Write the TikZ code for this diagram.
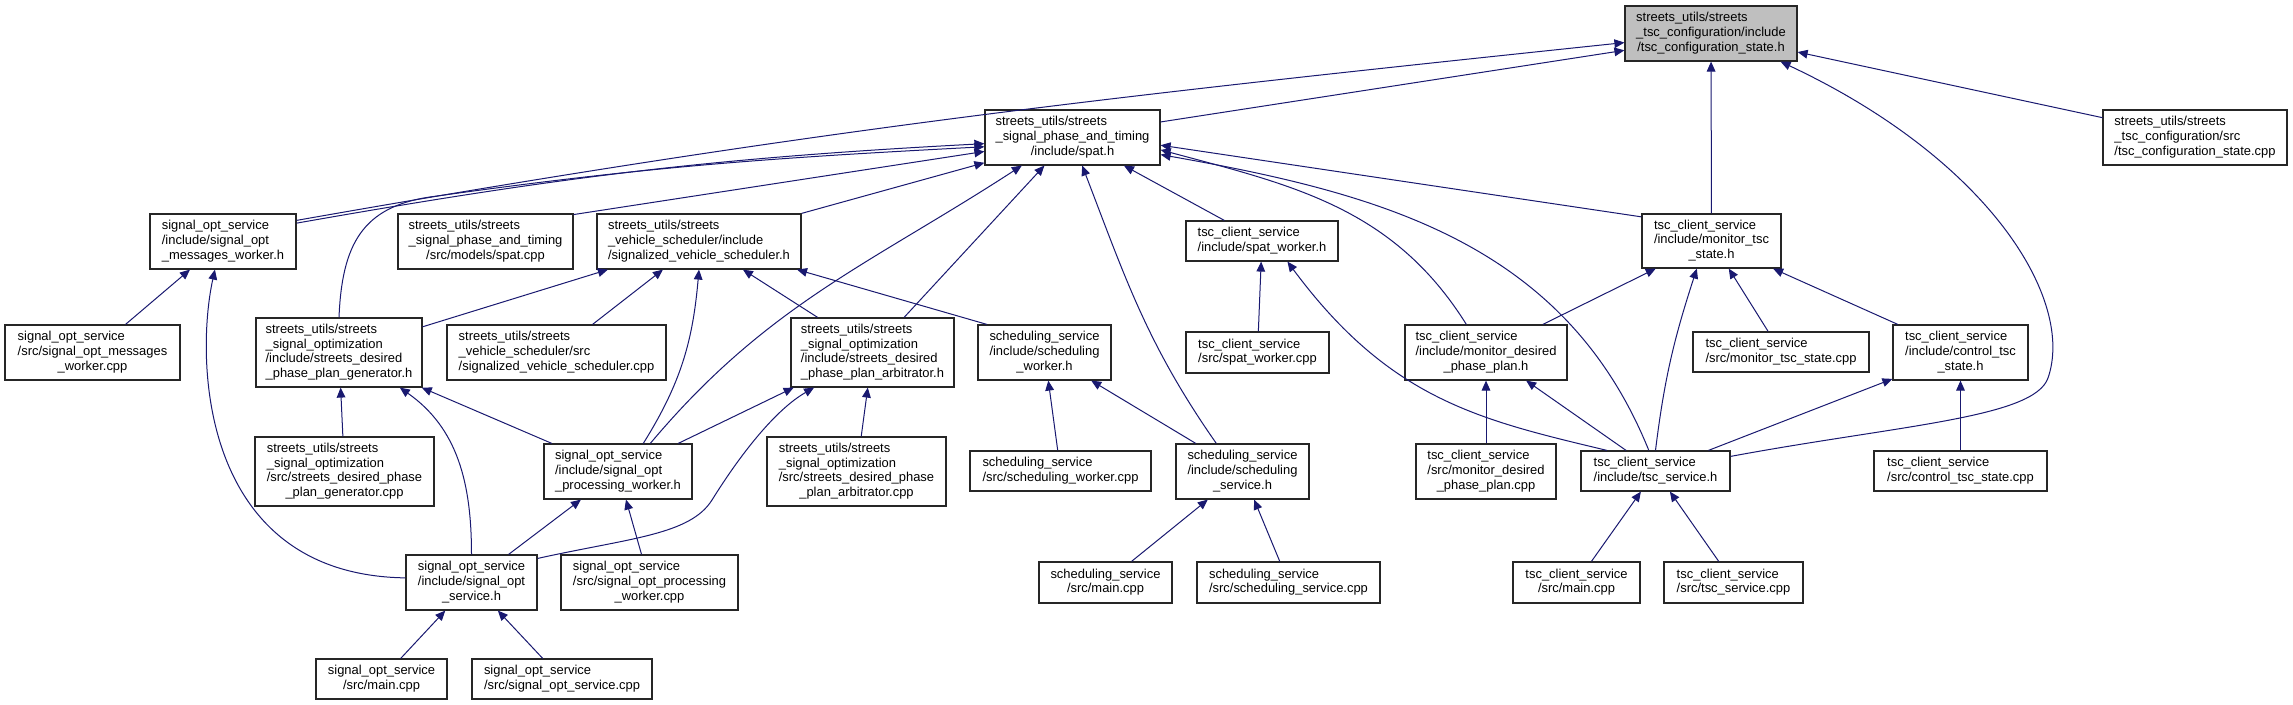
\documentclass[tikz,border=0pt]{standalone}
\usepackage{fontspec}
\setmainfont{Liberation Sans}
\usetikzlibrary{arrows.meta}
\definecolor{edgeblue}{HTML}{191970}
\newcommand{\fsz}{\fontsize{9.7}{11}\selectfont}
\newcommand{\flines}[2]{\begin{tabular}{@{}l@{}}#1\\\multicolumn{1}{@{}c@{}}{#2}\end{tabular}}
\tikzset{
  file/.style={
    draw=black!85,
    line width=0.9pt,
    fill=white,
    inner sep=0pt,
    font=\fsz
  },
  focus/.style={
    file,
    fill=gray!50
  },
  sz/.style 2 args={minimum width=#1*0.75pt, minimum height=#2*0.75pt},
  incl/.style={-{Triangle[length=7.5pt,width=6.5pt]}, draw=edgeblue, line width=0.75pt}
}

\begin{document}
\begin{tikzpicture}[x=0.75pt, y=-0.75pt]
  \path[use as bounding box, fill=white] (0,0) rectangle (2293,705);

  \node[focus, sz={172}{55}] (tscstate) at (1711,33.5) {\flines{streets\_utils/streets\\\_tsc\_configuration/include}{/tsc\_configuration\_state.h}};

  \node[file, sz={184}{55}] (tsccfgcpp) at (2195,137.5) {\flines{streets\_utils/streets\\\_tsc\_configuration/src}{/tsc\_configuration\_state.cpp}};
  \node[file, sz={175}{55}] (spath) at (1072.5,137.5) {\flines{streets\_utils/streets\\\_signal\_phase\_and\_timing}{/include/spat.h}};

  \node[file, sz={146}{55}] (msgworkerh) at (223,241.5) {\flines{signal\_opt\_service\\/include/signal\_opt}{\_messages\_worker.h}};
  \node[file, sz={175}{55}] (spatcpp) at (485.5,241.5) {\flines{streets\_utils/streets\\\_signal\_phase\_and\_timing}{/src/models/spat.cpp}};
  \node[file, sz={204}{55}] (svsh) at (699,241.5) {\flines{streets\_utils/streets\\\_vehicle\_scheduler/include}{/signalized\_vehicle\_scheduler.h}};
  \node[file, sz={152}{40}] (spatworkerh) at (1262,241) {\flines{tsc\_client\_service}{/include/spat\_worker.h}};
  \node[file, sz={139}{54}] (montsch) at (1711.5,241) {\flines{tsc\_client\_service\\/include/monitor\_tsc}{\_state.h}};

  \node[file, sz={175}{55}] (msgworkercpp) at (92.5,352.5) {\flines{signal\_opt\_service\\/src/signal\_opt\_messages}{\_worker.cpp}};
  \node[file, sz={166}{69}] (generatorh) at (339,352.5) {\flines{streets\_utils/streets\\\_signal\_optimization\\/include/streets\_desired}{\_phase\_plan\_generator.h}};
  \node[file, sz={219}{55}] (svscpp) at (556.5,352.5) {\flines{streets\_utils/streets\\\_vehicle\_scheduler/src}{/signalized\_vehicle\_scheduler.cpp}};
  \node[file, sz={163}{69}] (arbitratorh) at (872.5,352.5) {\flines{streets\_utils/streets\\\_signal\_optimization\\/include/streets\_desired}{\_phase\_plan\_arbitrator.h}};
  \node[file, sz={133}{55}] (schedworkerh) at (1044.5,352.5) {\flines{scheduling\_service\\/include/scheduling}{\_worker.h}};
  \node[file, sz={143}{41}] (spatworkercpp) at (1257.5,352.5) {\flines{tsc\_client\_service}{/src/spat\_worker.cpp}};
  \node[file, sz={162}{55}] (mondpph) at (1486,352.5) {\flines{tsc\_client\_service\\/include/monitor\_desired}{\_phase\_plan.h}};
  \node[file, sz={176}{40}] (montsccpp) at (1781,352) {\flines{tsc\_client\_service}{/src/monitor\_tsc\_state.cpp}};
  \node[file, sz={135}{55}] (ctrltsch) at (1960.5,352.5) {\flines{tsc\_client\_service\\/include/control\_tsc}{\_state.h}};

  \node[file, sz={179}{69}] (generatorcpp) at (344.5,471.5) {\flines{streets\_utils/streets\\\_signal\_optimization\\/src/streets\_desired\_phase}{\_plan\_generator.cpp}};
  \node[file, sz={148}{55}] (procworkerh) at (618,471.5) {\flines{signal\_opt\_service\\/include/signal\_opt}{\_processing\_worker.h}};
  \node[file, sz={179}{69}] (arbitratorcpp) at (856.5,471.5) {\flines{streets\_utils/streets\\\_signal\_optimization\\/src/streets\_desired\_phase}{\_plan\_arbitrator.cpp}};
  \node[file, sz={181}{40}] (schedworkercpp) at (1060.5,471) {\flines{scheduling\_service}{/src/scheduling\_worker.cpp}};
  \node[file, sz={133}{55}] (schedserviceh) at (1242.5,471.5) {\flines{scheduling\_service\\/include/scheduling}{\_service.h}};
  \node[file, sz={140}{55}] (mondppcpp) at (1486,471.5) {\flines{tsc\_client\_service\\/src/monitor\_desired}{\_phase\_plan.cpp}};
  \node[file, sz={149}{40}] (tscserviceh) at (1655.5,471) {\flines{tsc\_client\_service}{/include/tsc\_service.h}};
  \node[file, sz={173}{40}] (ctrltsccpp) at (1960.5,471) {\flines{tsc\_client\_service}{/src/control\_tsc\_state.cpp}};

  \node[file, sz={131}{55}] (sosh) at (471.5,582.5) {\flines{signal\_opt\_service\\/include/signal\_opt}{\_service.h}};
  \node[file, sz={177}{55}] (procworkercpp) at (649.5,582.5) {\flines{signal\_opt\_service\\/src/signal\_opt\_processing}{\_worker.cpp}};
  \node[file, sz={133}{41}] (ssmaincpp) at (1105.5,582.5) {\flines{scheduling\_service}{/src/main.cpp}};
  \node[file, sz={183}{41}] (sscpp) at (1288.5,582.5) {\flines{scheduling\_service}{/src/scheduling\_service.cpp}};
  \node[file, sz={127}{41}] (tscmaincpp) at (1576.5,582.5) {\flines{tsc\_client\_service}{/src/main.cpp}};
  \node[file, sz={139}{41}] (tscservicecpp) at (1733.5,582.5) {\flines{tsc\_client\_service}{/src/tsc\_service.cpp}};

  \node[file, sz={131}{40}] (sosmaincpp) at (381.5,679) {\flines{signal\_opt\_service}{/src/main.cpp}};
  \node[file, sz={180}{40}] (soscpp) at (562,679) {\flines{signal\_opt\_service}{/src/signal\_opt\_service.cpp}};

  \draw[incl] (spath.10) -- (tscstate.191);
  \draw[incl] (msgworkerh.16) to[out=10, in=186] (tscstate.186);
  \draw[incl] (tsccfgcpp) -- (tscstate);
  \draw[incl] (montsch) -- (tscstate);
  \draw[incl] (tscserviceh.11) .. controls (1900,425) and (2034,418) .. (2048,378) .. controls (2075,300) and (1990,160) .. (tscstate.-22);

  \draw[incl] (msgworkerh.14) to[out=10, in=183] (spath.184);
  \draw[incl] (generatorh.north) .. controls (342,245) and (362,207) .. (430,197) to[out=8, in=183] (spath.186);
  \draw[incl] (spatcpp.17) -- (spath.189);
  \draw[incl] (svsh.north east) -- (spath.196);
  \draw[incl] (procworkerh.41) to[out=50, in=-147] (spath.209);
  \draw[incl] (arbitratorh.48) -- (spath.225);
  \draw[incl] (schedserviceh.133) to[out=125, in=-69] (spath.-71);
  \draw[incl] (spatworkerh) -- (spath);
  \draw[incl] (montsch.161) -- (spath.-5);
  \draw[incl] (mondpph.125) to[out=122, in=-15] (spath.-8);
  \draw[incl] (tscserviceh.108) to[out=112, in=-10] (spath.-11);

  \draw[incl] (msgworkercpp) -- (msgworkerh);
  \draw[incl] (sosh.176) .. controls (200,575) and (195,360) .. (msgworkerh.-106);

  \draw[incl] (generatorh) -- (svsh);
  \draw[incl] (svscpp) -- (svsh);
  \draw[incl] (procworkerh.48) to[out=58, in=-95] (svsh.south);
  \draw[incl] (arbitratorh) -- (svsh);
  \draw[incl] (schedworkerh.154) -- (svsh.-16);

  \draw[incl] (generatorcpp) -- (generatorh);
  \draw[incl] (sosh.north) to[out=90, in=-35] (generatorh.-30);
  \draw[incl] (procworkerh.157) -- (generatorh.-23);

  \draw[incl] (arbitratorcpp) -- (arbitratorh);
  \draw[incl] (procworkerh.25) -- (arbitratorh.204);
  \draw[incl] (sosh.20) .. controls (630,538) and (690,535) .. (712,500) .. controls (740,455) and (775,410) .. (arbitratorh.211);

  \draw[incl] (sosh) -- (procworkerh);
  \draw[incl] (procworkercpp) -- (procworkerh);

  \draw[incl] (sosmaincpp) -- (sosh);
  \draw[incl] (soscpp) -- (sosh);

  \draw[incl] (schedworkercpp) -- (schedworkerh);
  \draw[incl] (schedserviceh) -- (schedworkerh);

  \draw[incl] (ssmaincpp) -- (schedserviceh);
  \draw[incl] (sscpp) -- (schedserviceh);

  \draw[incl] (spatworkercpp) -- (spatworkerh);
  \draw[incl] (tscserviceh.157) .. controls (1480,420) and (1390,400) .. (spatworkerh.-39);

  \draw[incl] (mondpph) -- (montsch);
  \draw[incl] (tscserviceh.north) to[out=83, in=-108] (montsch.-118);
  \draw[incl] (montsccpp) -- (montsch);
  \draw[incl] (ctrltsch) -- (montsch);

  \draw[incl] (mondppcpp) -- (mondpph);
  \draw[incl] (tscserviceh) -- (mondpph);

  \draw[incl] (tscserviceh) -- (ctrltsch);
  \draw[incl] (ctrltsccpp) -- (ctrltsch);

  \draw[incl] (tscmaincpp) -- (tscserviceh);
  \draw[incl] (tscservicecpp) -- (tscserviceh);
\end{tikzpicture}
\end{document}
